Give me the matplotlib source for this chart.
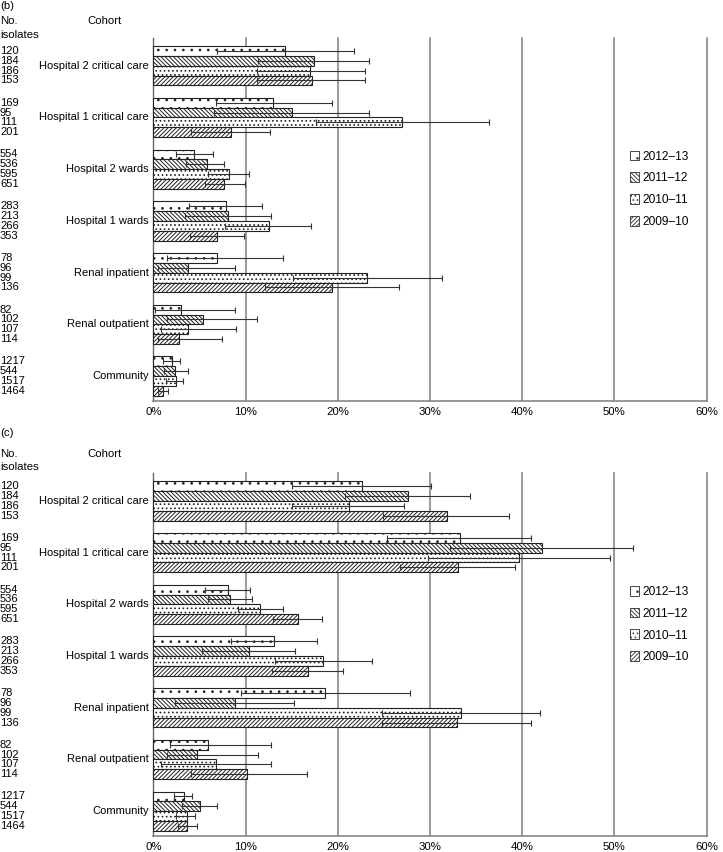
import numpy as np
import matplotlib
matplotlib.use("Agg")
import matplotlib.pyplot as plt
import matplotlib.transforms as mtransforms
from matplotlib.patches import Patch

plt.rcParams['font.family'] = ['Liberation Sans', 'DejaVu Sans']
plt.rcParams['font.size'] = 8.0
plt.rcParams['hatch.linewidth'] = 0.7
plt.rcParams['hatch.color'] = '#2a2a2a'

## data (cohorts top to bottom, years in bar order top to bottom)
cohorts = ['Hospital 2 critical care', 'Hospital 1 critical care',
           'Hospital 2 wards', 'Hospital 1 wards', 'Renal inpatient',
           'Renal outpatient', 'Community']
years = ['2012\u201313', '2011\u201312', '2010\u201311', '2009\u201310']
hatches = ['..', '\\' * 8, '....', '/' * 8]

isolates = [[120, 184, 186, 153],
            [169, 95, 111, 201],
            [554, 536, 595, 651],
            [283, 213, 266, 353],
            [78, 96, 99, 136],
            [82, 102, 107, 114],
            [1217, 544, 1517, 1464]]

# panel (b)
b_pct = [[14.3, 17.4, 17.0, 17.2],
         [13.0, 15.0, 27.0, 8.4],
         [4.4, 5.8, 8.2, 7.7],
         [7.85, 8.1, 12.5, 6.9],
         [6.9, 3.8, 23.2, 19.4],
         [3.0, 5.4, 3.8, 2.8],
         [2.0, 2.3, 2.5, 1.0]]
b_lo = [[6.9, 11.4, 11.2, 11.2],
        [6.8, 6.6, 17.6, 4.1],
        [2.5, 3.5, 5.9, 5.6],
        [3.9, 3.4, 7.8, 4.0],
        [1.5, 0.5, 15.1, 12.1],
        [0.2, 1.5, 0.8, 0.5],
        [1.1, 1.2, 1.4, 0.5]]
b_hi = [[21.8, 23.4, 22.9, 23.0],
        [19.4, 23.4, 36.4, 12.7],
        [6.5, 7.7, 10.4, 9.9],
        [11.8, 12.8, 17.1, 9.8],
        [14.1, 8.9, 31.3, 26.6],
        [8.9, 11.2, 9.0, 7.4],
        [2.9, 3.8, 3.2, 1.6]]

# panel (c)
c_pct = [[22.6, 27.6, 21.2, 31.8],
         [33.2, 42.1, 39.6, 33.0],
         [8.1, 8.3, 11.6, 15.7],
         [13.1, 10.4, 18.4, 16.8],
         [18.6, 8.9, 33.4, 32.9],
         [5.9, 4.7, 6.8, 10.2],
         [3.3, 5.1, 3.6, 3.6]]
c_lo = [[15.0, 20.8, 15.0, 24.9],
        [25.3, 32.2, 29.8, 26.8],
        [5.6, 5.9, 9.2, 13.0],
        [8.4, 5.3, 13.2, 12.9],
        [9.5, 2.4, 24.8, 24.8],
        [1.8, 1.5, 0.8, 4.1],
        [2.2, 3.1, 2.5, 2.7]]
c_hi = [[30.1, 34.3, 27.2, 38.6],
        [41.0, 52.0, 49.5, 39.2],
        [10.5, 10.7, 14.1, 18.3],
        [17.8, 15.4, 23.7, 20.6],
        [27.8, 15.3, 41.9, 41.0],
        [12.8, 11.4, 12.8, 16.7],
        [4.2, 6.9, 4.5, 4.7]]

xticks = [0, 10, 20, 30, 40, 50, 60]

W, H = 723, 852
fig = plt.figure(figsize=(W / 100, H / 100), dpi=100)


def draw_panel(ax, pct, lo, hi):
    n = len(cohorts)
    bh = 0.19
    offs = [1.5 * bh, 0.5 * bh, -0.5 * bh, -1.5 * bh]
    count_tr = mtransforms.blended_transform_factory(fig.transFigure, ax.transData)
    for ci in range(n):
        g = n - 1 - ci
        for yi in range(4):
            y = g + offs[yi]
            v = pct[ci][yi]
            ax.barh(y, v, height=bh, color='white', edgecolor='#222222',
                    linewidth=0.8, hatch=hatches[yi], zorder=3)
            ax.errorbar(v, y, xerr=[[v - lo[ci][yi]], [hi[ci][yi] - v]],
                        fmt='none', ecolor='#333333', elinewidth=0.8,
                        capsize=2.2, capthick=0.8, zorder=4)
            # isolate counts at the far left
            ax.text(0.0, y, str(isolates[ci][yi]), transform=count_tr,
                    ha='left', va='center', fontsize=8.0)
        ax.text(-0.5, g, cohorts[ci], ha='right', va='center', fontsize=8.0)

    ax.set_xlim(0, 60)
    ax.set_ylim(-0.48, n - 1 + 0.535)
    for x in xticks[1:]:
        ax.axvline(x, color='#888888', lw=1.2, zorder=1, clip_on=False)
    ax.set_xticks(xticks)
    ax.set_xticklabels(['%d%%' % x for x in xticks], fontsize=8.2)
    shift = mtransforms.ScaledTranslation(3 / 100, 0, fig.dpi_scale_trans)
    for lab in ax.get_xticklabels():
        lab.set_transform(lab.get_transform() + shift)
    ax.tick_params(axis='x', length=0, pad=4)
    ax.set_yticks([])
    ax.spines['top'].set_visible(False)
    ax.spines['right'].set_visible(False)
    ax.spines['left'].set_color('#666666')
    ax.spines['bottom'].set_color('#888888')
    ax.spines['left'].set_linewidth(1.0)
    ax.spines['bottom'].set_linewidth(1.2)

    handles = [Patch(facecolor='white', edgecolor='#444444', hatch=hatches[i],
                     linewidth=0.7, label=years[i]) for i in range(4)]
    ax.legend(handles=handles, loc='center left', bbox_to_anchor=(0.852, 0.583),
              frameon=False, handlelength=0.75, handleheight=0.9,
              handletextpad=0.3, labelspacing=0.82, fontsize=8.6,
              borderaxespad=0)


left = 153.3 / W
width = (706.7 - 153.3) / W

ax_b = fig.add_axes([left, 1 - 401 / H, width, 363 / H])
draw_panel(ax_b, b_pct, b_lo, b_hi)
ax_c = fig.add_axes([left, 1 - 836 / H, width, 362.7 / H])
draw_panel(ax_c, c_pct, c_lo, c_hi)

# headers
for letter, y_let, y_no, y_iso in [('(b)', 6, 21, 34.5), ('(c)', 433, 454, 467)]:
    fig.text(0.0, 1 - y_let / H, letter, ha='left', va='center', fontsize=8.2)
    fig.text(0.0, 1 - y_no / H, 'No.', ha='left', va='center', fontsize=8.2)
    fig.text(0.0, 1 - y_iso / H, 'isolates', ha='left', va='center', fontsize=8.2)
    fig.text(87 / W, 1 - y_no / H, 'Cohort', ha='left', va='center', fontsize=8.2)

fig.savefig('out.png', dpi=100)
